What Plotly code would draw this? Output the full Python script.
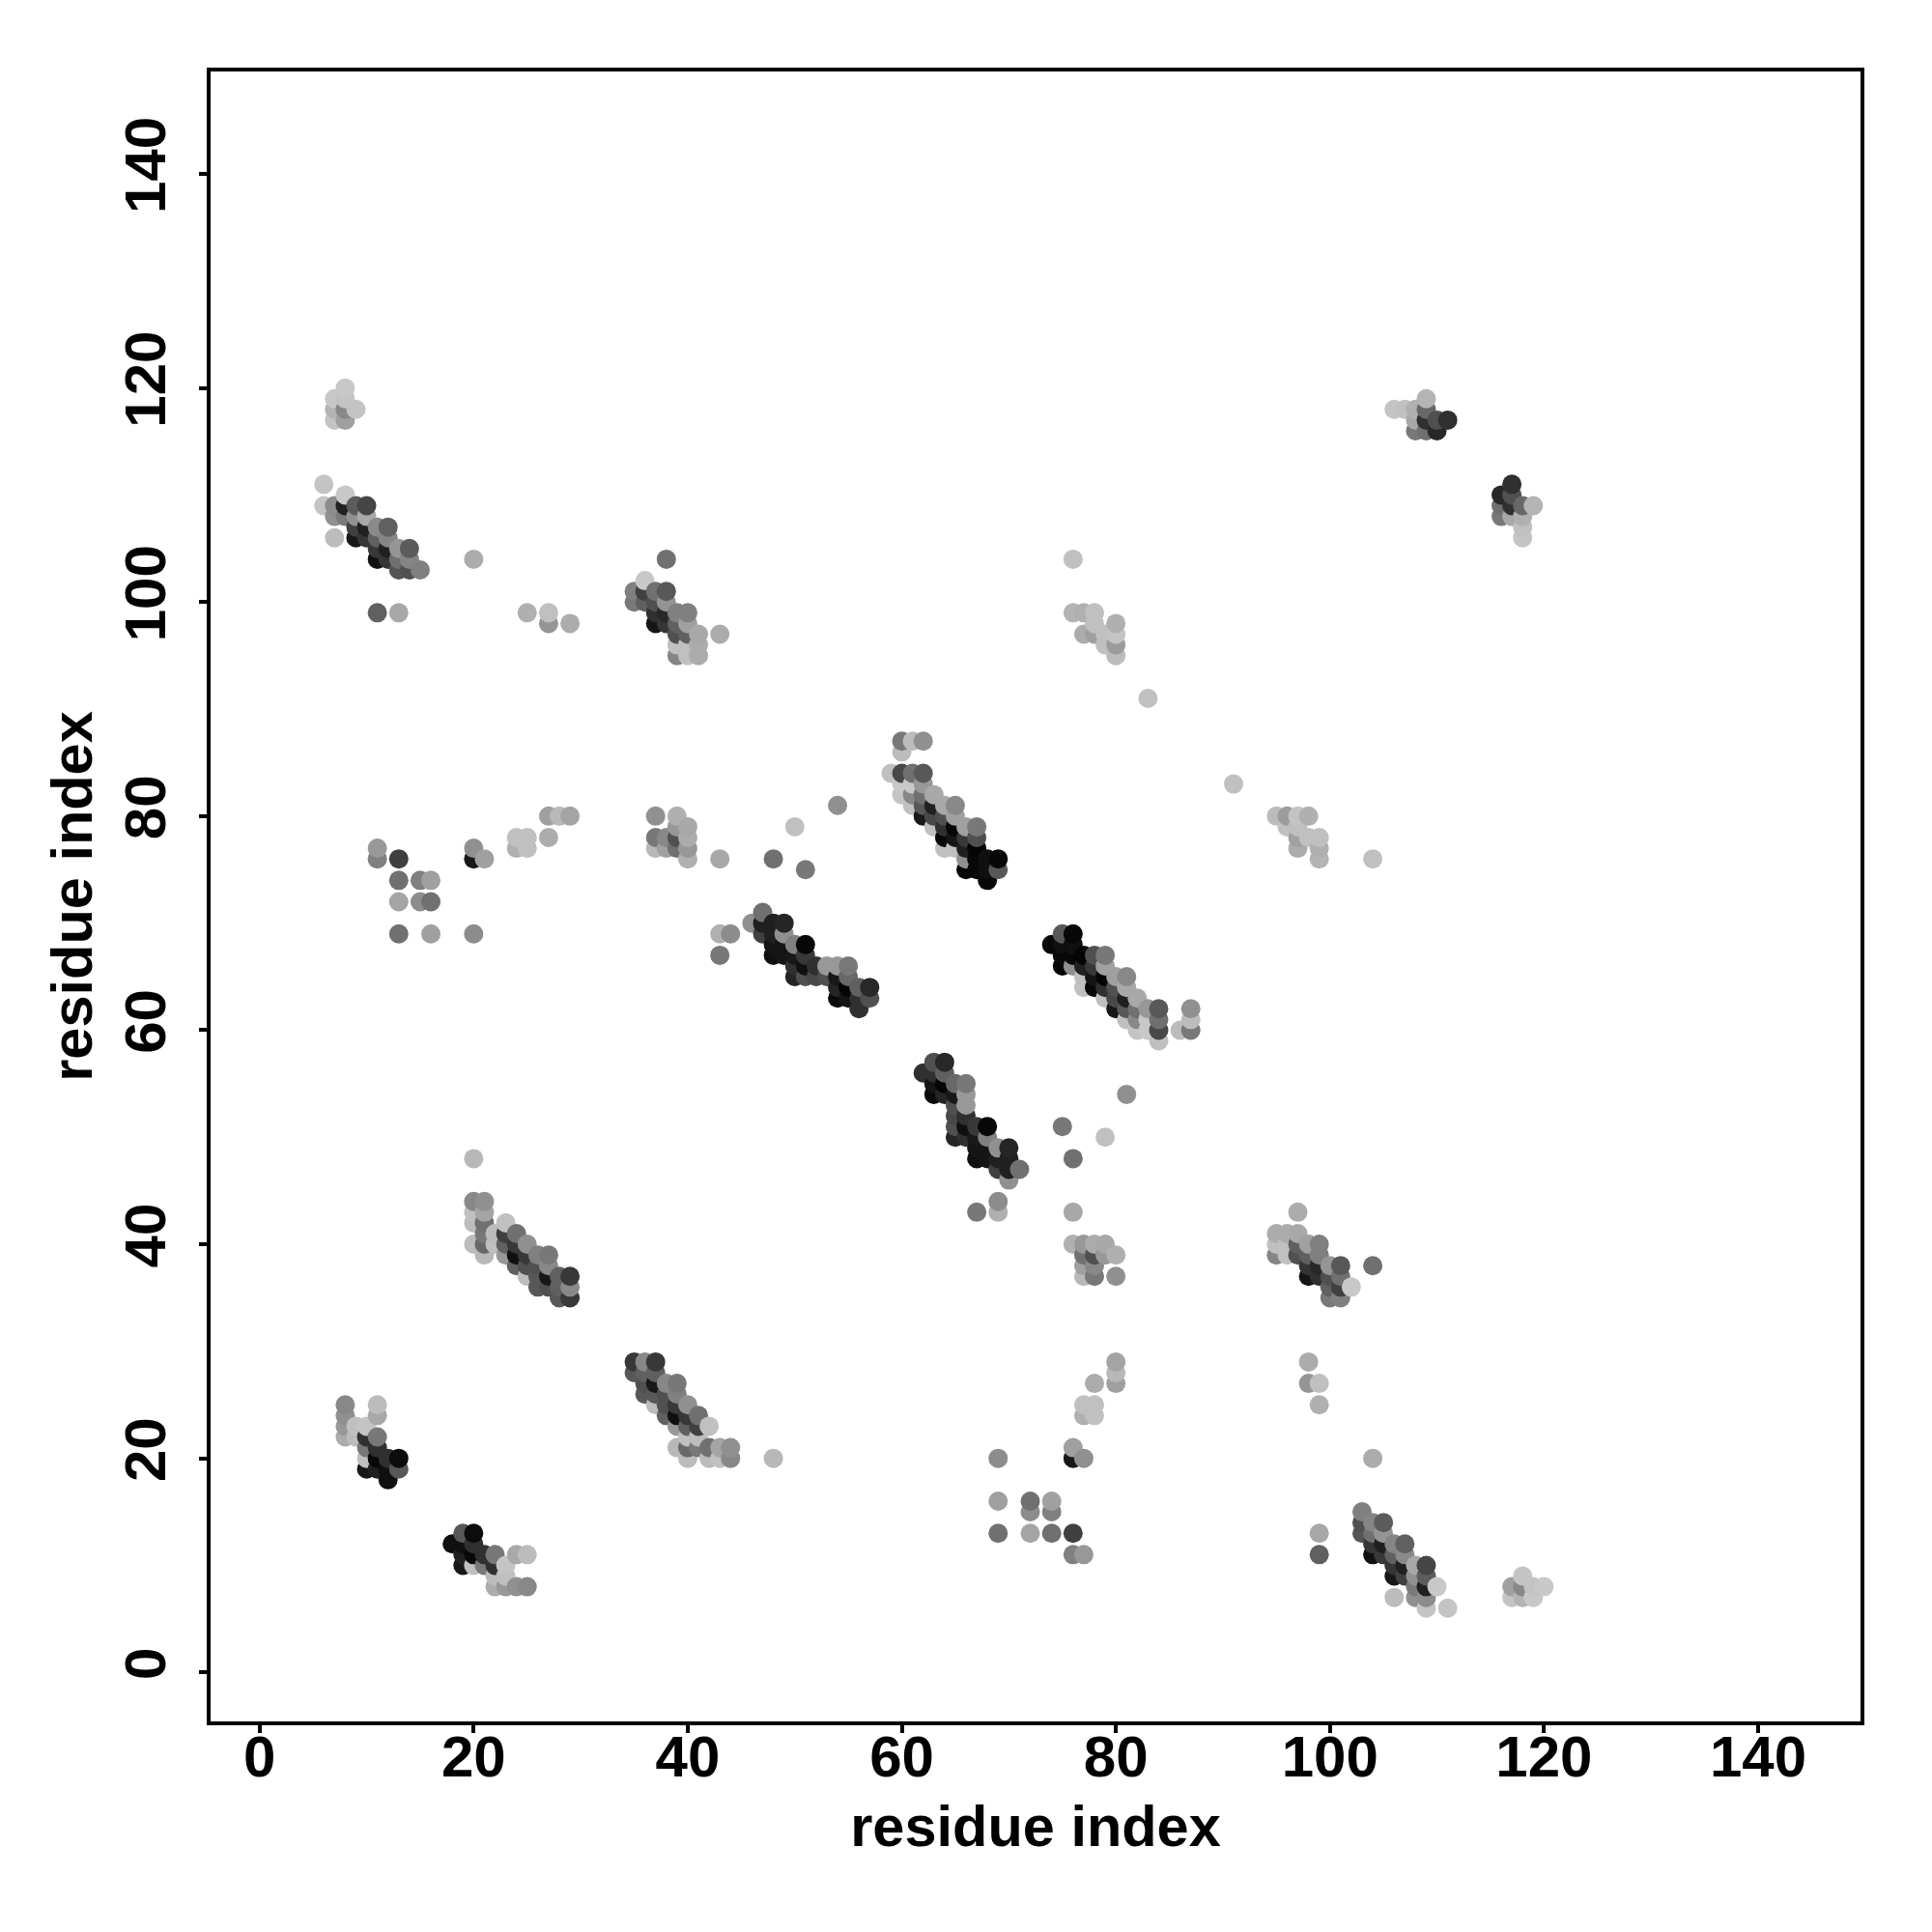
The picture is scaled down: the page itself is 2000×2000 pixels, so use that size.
import plotly.graph_objects as go

# Upper-triangle contacts; the map is symmetric.
res_i = [
 6,6,
 7,7,7,7,7,7,
 8,8,8,8,8,8,8,8,8,8,8,
 9,9,9,9,9,9,9,
 10,10,10,10,10,10,10,10,10,
 11,11,11,11,11,11,11,11,11,11,11,11,11,
 12,12,12,12,12,12,12,
 13,13,13,13,13,13,13,13,13,13,
 14,14,14,
 15,15,15,
 16,16,16,
 20,20,20,20,20,20,20,20,20,
 21,21,21,21,21,21,21,
 22,22,
 23,23,23,23,
 24,24,24,24,24,24,
 25,25,25,25,25,25,25,
 26,26,26,26,
 27,27,27,27,27,27,27,27,
 28,28,28,28,
 29,29,29,29,29,
 35,35,
 36,36,36,
 37,37,37,37,37,37,37,
 38,38,38,38,38,38,38,
 39,39,39,39,39,39,39,39,39,
 40,40,40,40,40,40,40,40,40,
 41,41,41,
 43,43,43,43,
 44,
 46,
 47,47,47,
 48,48,48,48,48,
 49,49,49,49,
 50,50,50,50,50,
 51,51,51,51,51,
 52,52,
 53,53,
 54,54,54,54,54,
 55,55,55,55,
 56,56,56,
 57,57,
 59,
 60,60,60,60,60,
 61,61,61,61,61,
 62,62,62,62,62,62,
 63,63,63,63,
 64,64,64,64,64,
 65,65,65,65,65,
 66,66,66,66,66,
 67,67,67,67,67,
 68,68,68,
 69,69,
 76,76,
 77,77,
 78,78,78,
 79,79,
 80,80,80,80,
 83,
 106,
 107,
 108,108,108,
 109,109,109,109,
 110,110,
 111,
]
res_j = [
 109,111,
 106,108,109,117,118,119,
 22,23,24,25,108,109,110,117,118,119,120,
 22,23,106,107,108,109,118,
 19,20,21,22,23,106,107,108,109,
 19,20,21,22,24,25,76,77,99,104,105,106,107,
 18,19,20,104,105,106,107,
 19,20,69,72,74,76,99,103,104,105,
 103,104,105,
 72,74,103,
 69,72,74,
 40,42,43,44,48,69,76,77,104,
 39,40,41,42,43,44,76,
 40,41,
 39,40,41,42,
 38,39,40,41,77,78,
 37,38,39,40,77,78,99,
 36,37,38,39,
 36,37,38,39,78,80,98,99,
 35,36,37,80,
 35,36,37,80,98,
 100,101,
 100,101,102,
 77,78,80,98,99,100,101,
 77,78,98,99,100,101,104,
 77,78,79,80,95,96,97,98,99,
 76,77,78,79,95,96,97,98,99,
 95,96,97,
 67,69,76,97,
 69,
 70,
 69,70,71,
 67,68,69,70,76,
 67,68,69,70,
 65,66,67,68,79,
 65,66,67,68,75,
 65,66,
 65,66,
 63,64,65,66,81,
 63,64,65,66,
 62,63,64,
 63,64,
 84,
 82,83,84,86,87,
 81,82,83,84,87,
 80,81,82,83,84,87,
 79,80,81,82,
 77,78,79,80,81,
 77,78,79,80,81,
 75,76,77,78,79,
 75,76,77,78,79,
 74,75,76,
 75,76,
 99,104,
 97,99,
 97,98,99,
 96,97,
 95,96,97,98,
 91,
 118,
 118,
 116,117,118,
 116,117,118,119,
 116,117,
 117,
]
shade = [
 0xc4,0xc4,
 0xbc,0x90,0x8c,0xc4,0xb4,0xc8,
 0xac,0x98,0x90,0x88,0x7a,0x20,0xc8,0xa0,0x88,0xc4,0xc8,
 0xbc,0xc0,0x18,0x40,0x90,0x5c,0xc4,
 0x18,0xc0,0x78,0x30,0xc4,0x35,0x20,0xa8,0x45,
 0x20,0x08,0x30,0x78,0xa8,0xbc,0x80,0x98,0x60,0x10,0x38,0x60,0x8a,
 0x10,0x10,0x30,0x35,0x20,0x85,0x60,
 0x58,0x0c,0x70,0xa4,0x70,0x40,0xa8,0x55,0x70,0x95,
 0x50,0x85,0x5c,
 0x8c,0x80,0x80,
 0xa0,0x70,0xa0,
 0xbc,0xbc,0xc0,0x88,0xb8,0x8c,0x18,0x90,0xac,
 0xb8,0x68,0x78,0x70,0xa4,0x90,0xa0,
 0xc0,0xbc,
 0x98,0x60,0x40,0xc0,
 0x60,0x10,0x38,0x70,0xb0,0xc0,
 0xbc,0x50,0x38,0x90,0xc0,0xc0,0xb0,
 0x58,0x58,0x50,0x80,
 0x50,0x18,0x88,0x78,0xac,0xa0,0x95,0xc0,
 0x58,0x60,0x60,0xb8,
 0x38,0x88,0x38,0xa4,0xac,
 0x78,0x80,
 0x60,0x40,0xc8,
 0xb8,0x78,0x90,0x15,0x30,0x50,0x70,
 0xa0,0x88,0x35,0x28,0x95,0x58,0x70,
 0x70,0x50,0x98,0xb0,0x85,0xc0,0x50,0x60,0x80,
 0xb0,0x98,0xac,0xa8,0xc0,0xc0,0x60,0xa0,0x80,
 0xac,0xac,0xa8,
 0x78,0xb0,0xa8,0xac,
 0x8c,
 0x90,
 0x40,0x20,0x70,
 0x10,0x15,0x20,0x20,0x70,
 0x15,0x15,0x90,0x25,
 0x25,0x30,0x18,0x80,0xc0,
 0x50,0x10,0x38,0x08,0x78,
 0x48,0x30,
 0x50,0x98,
 0x0a,0x25,0x18,0x98,0x90,
 0x15,0x05,0x68,0x78,
 0x30,0x30,0x60,
 0x50,0x28,
 0xc0,
 0xc4,0xc8,0x48,0xbc,0x78,
 0xc0,0x88,0xc8,0x70,0xbc,
 0x18,0x58,0x70,0x98,0x58,0x90,
 0xc0,0x48,0x20,0xa8,
 0xc0,0x08,0x30,0x50,0xa8,
 0xc0,0x15,0x05,0xa0,0x88,
 0x05,0x90,0x20,0x38,0xa0,
 0x08,0x08,0x05,0x50,0x78,
 0x08,0x10,0x10,
 0x58,0x08,
 0xb4,0xc0,
 0xac,0xb0,
 0xa0,0xc0,0xc0,
 0xc0,0xc0,
 0xbc,0x9c,0xc4,0xb0,
 0xc0,
 0xc4,
 0xc0,
 0x78,0xa8,0xb0,
 0x70,0x30,0x68,0xb4,
 0x28,0x50,
 0x30,
]
tick_values = [0, 20, 40, 60, 80, 100, 120, 140]
axis_title = "residue index"

assert len(res_i) == len(res_j) == len(shade)

# Both halves of the symmetric map, painted by column then by row.
points = sorted(
    [(a, b, s) for a, b, s in zip(res_i, res_j, shade)]
    + [(b, a, s) for a, b, s in zip(res_i, res_j, shade)]
)
px = [p[0] for p in points]
py = [p[1] for p in points]
colors = [f"rgb({p[2]},{p[2]},{p[2]})" for p in points]

FONT = "Liberation Sans"
OFFSET = 8
W, H = 1984, 1984
left, right, top, bottom = 218, 1926, 74, 1782

fig = go.Figure(go.Scatter(
    x=px, y=py, mode="markers",
    marker=dict(size=20, color=colors, line=dict(width=0), opacity=1),
    hoverinfo="skip", showlegend=False,
))

axis_common = dict(
    tickmode="array", tickvals=tick_values, ticks="outside",
    ticklen=8, tickwidth=4, tickcolor="black",
    showline=True, linewidth=4, linecolor="black", mirror=True,
    showgrid=False, zeroline=False, automargin=False,
    tickfont=dict(family=FONT, size=60, color="black", weight="bold"),
)
fig.update_xaxes(range=[-4.58, 149.57],
                 title=dict(text=axis_title, standoff=19,
                            font=dict(family=FONT, size=59.5, color="black", weight="bold")),
                 ticklabelstandoff=-27, **axis_common)
fig.update_yaxes(range=[-4.58, 149.57], tickangle=-90,
                 title=dict(text=axis_title, standoff=3,
                            font=dict(family=FONT, size=59.5, color="black", weight="bold")),
                 ticklabelstandoff=11, **axis_common)
fig.update_layout(
    width=W, height=H, autosize=False,
    paper_bgcolor="white", plot_bgcolor="white",
    margin=dict(l=left - OFFSET, r=2000 - right - OFFSET,
                t=top - OFFSET, b=2000 - bottom - OFFSET, pad=0),
)
fig.write_html("out.html")
